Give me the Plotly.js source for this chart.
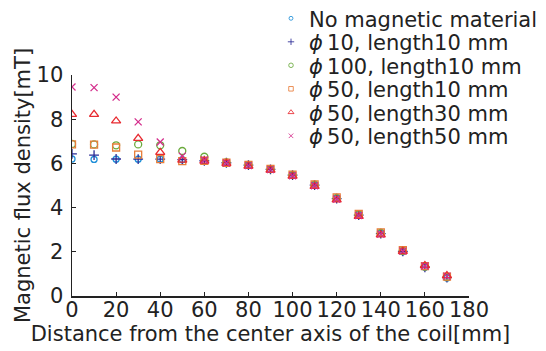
<!DOCTYPE html>
<html>
<head>
<meta charset="utf-8">
<script src="https://cdn.plot.ly/plotly-3.0.1.min.js"></script>
<style>html,body{margin:0;padding:0;background:#fff;}#chart{width:546px;height:351px;}</style>
</head>
<body>
<div id="chart"></div>
<script>
const distance = [0,10,20,30,40,50,60,70,80,90,100,110,120,130,140,150,160,170];
const seriesNames = [
  "No magnetic material",
  "<i>ϕ</i>\u200910, length10 mm",
  "<i>ϕ</i>\u2009100, length10 mm",
  "<i>ϕ</i>\u200950, length10 mm",
  "<i>ϕ</i>\u200950, length30 mm",
  "<i>ϕ</i>\u200950, length50 mm"
];
const noMaterial   = [6.20,6.18,6.19,6.19,6.19,6.17,6.12,6.03,5.92,5.73,5.47,5.03,4.43,3.68,2.83,2.00,1.30,0.82];
const phi10len10   = [6.43,6.37,6.20,6.19,6.19,6.17,6.12,6.03,5.92,5.73,5.47,5.02,4.41,3.66,2.82,2.02,1.30,0.83];
const phi100len10  = [6.88,6.86,6.82,6.86,6.82,6.56,6.30,6.05,5.93,5.74,5.48,5.04,4.44,3.70,2.86,2.05,1.33,0.86];
const phi50len10   = [6.86,6.85,6.72,6.40,6.19,6.10,6.12,6.03,5.93,5.75,5.49,5.05,4.46,3.71,2.88,2.07,1.35,0.88];
const phi50len30   = [8.22,8.22,7.92,7.13,6.50,6.15,6.10,6.00,5.88,5.70,5.42,4.96,4.35,3.60,2.77,2.02,1.38,0.92];
const phi50len50   = [9.46,9.43,9.00,7.88,6.97,6.33,6.15,6.02,5.90,5.72,5.44,4.99,4.39,3.64,2.80,2.03,1.36,0.90];

const values = [noMaterial, phi10len10, phi100len10, phi50len10, phi50len30, phi50len50];
const styles = [
  {symbol:"circle-open", color:"#1f8fd8", size:6},
  {symbol:"cross-thin-open", color:"#2b2b96", size:7},
  {symbol:"circle-open", color:"#6aaa3c", size:7},
  {symbol:"square-open", color:"#e87d3a", size:7},
  {symbol:"triangle-up-open", color:"#e82a30", size:8},
  {symbol:"x-thin-open", color:"#d42e8c", size:7}
];

const traces = values.map((v,i)=>({
  x: distance, y: v, type:"scatter", mode:"markers", name: seriesNames[i],
  marker:{symbol:styles[i].symbol, size:styles[i].size, color:styles[i].color,
          line:{color:styles[i].color, width:1.3}}
}));

const font = "DejaVu Sans, sans-serif";
const txt = {family:font, size:21, color:"#222"};
const layout = {
  width:546, height:351, autosize:false,
  margin:{l:72, r:77, t:75, b:55, pad:0},
  paper_bgcolor:"#fff", plot_bgcolor:"#fff",
  font:txt,
  showlegend:true,
  legend:{x:1.0, y:1.0, xanchor:"right", yanchor:"top",
          font:{family:font, size:21, color:"#222"}, bgcolor:"rgba(0,0,0,0)"},
  xaxis:{range:[0,180], dtick:20, showline:true, linecolor:"#222", linewidth:1.5,
         ticks:"inside", ticklen:4, tickcolor:"#222", showgrid:false, zeroline:false,
         automargin:false, tickfont:txt, ticklabelstandoff:-6,
         title:{text:"Distance from the center axis of the coil[mm]", font:txt, standoff:4}},
  yaxis:{range:[0,10], dtick:2, showline:true, linecolor:"#222", linewidth:1.5,
         ticks:"inside", ticklen:4, tickcolor:"#222", showgrid:false, zeroline:false,
         automargin:false, tickfont:txt, ticklabelstandoff:3,
         title:{text:"Magnetic flux density[mT]", font:txt, standoff:0}}
};
Plotly.newPlot("chart", traces, layout, {displayModeBar:false, staticPlot:true}).then(gd=>{
  // tighten legend to match reference row spacing and position
  const leg = gd.querySelector(".legend");
  if (!leg) return;
  leg.setAttribute("transform", "translate(269,-2)");
  gd.querySelectorAll(".legend .traces").forEach((g,i)=>{
    g.setAttribute("transform", "translate(0," + (20.3 + i*23.5) + ")");
  });
  gd.querySelectorAll(".legend .legendpoints path.scatterpts").forEach(p=>{
    const t = p.getAttribute("transform") || "";
    p.setAttribute("transform", "translate(22,0) scale(0.65)");
  });
  const clip = gd.querySelector(".legend .scrollbox");
  if (clip) clip.removeAttribute("clip-path");
});
</script>
</body>
</html>
